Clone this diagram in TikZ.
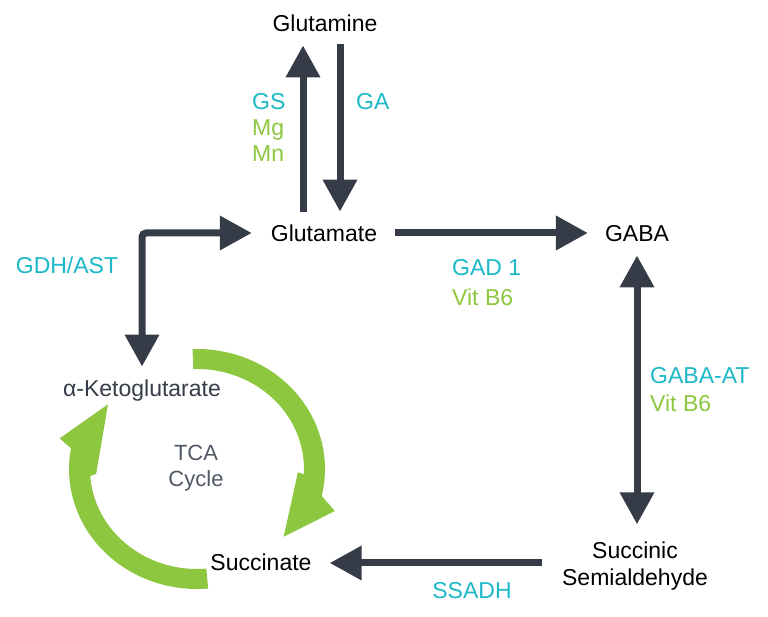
\documentclass[tikz,border=0pt]{standalone}
\usepackage{fontspec}
\setmainfont{Liberation Sans}
\usetikzlibrary{arrows.meta}
\definecolor{slate}{HTML}{353C48}
\definecolor{enzymecyan}{HTML}{1BB8C8}
\definecolor{cofactorgreen}{HTML}{8DC63F}
\definecolor{tcatext}{HTML}{505866}

\begin{document}
\begin{tikzpicture}[
        x=1pt, y=1pt,
        every node/.style={font=\fontsize{23}{27.6}\selectfont, inner sep=0pt},
        compound/.style={text height=16.5pt, text depth=0pt},
        enzyme/.style={compound, text=enzymecyan, anchor=west},
        cofactor/.style={compound, text=cofactorgreen, anchor=west},
        >={Triangle[length=32pt, width=33pt]},
        flow/.style={draw=slate, line width=7pt, ->}
    ]
    \useasboundingbox (0,0) rectangle (768,617);

    % Compounds
    \node[compound] at (325,594) (glutamine) {Glutamine};
    \node[compound] at (324,384) (glutamate) {Glutamate};
    \node[compound] at (637,384) (gaba) {GABA};
    \node[compound, text=slate] at (142,229) (akg) {α-Ketoglutarate};
    \node[compound] at (261,55) (succinate) {Succinate};
    \node[align=center] at (635,51) (succsemi) {Succinic\\Semialdehyde};

    % TCA cycle
    \node[align=center, text=tcatext, font=\fontsize{22}{26}\selectfont] at (196,149) (tca) {TCA\\Cycle};
    \fill[cofactorgreen, shift={(197,148)}] (92:128 and 120)
        arc[start angle=92, end angle=-13, x radius=128, y radius=120]
        -- (-18:145 and 136) -- (-38:110) -- (-2:101 and 94) -- (-3:107 and 100)
        arc[start angle=-3, end angle=92, x radius=107, y radius=100] -- cycle;
    \fill[cofactorgreen, shift={(197,148)}] (-85:128 and 120)
        arc[start angle=-85, end angle=-190, x radius=128, y radius=120]
        -- (-193:141 and 136) -- (-216:110) -- (-177:101 and 94) -- (-176:107 and 100)
        arc[start angle=-176, end angle=-85, x radius=107, y radius=100] -- cycle;

    % Arrows
    \draw[flow, shorten <=13pt, shorten >=14pt] ([xshift=-21pt]glutamate.north) -- ([xshift=-21pt]glutamate.north |- glutamine.south);
    \draw[flow, shorten <=13pt, shorten >=13pt] ([xshift=16pt]glutamate.north |- glutamine.south) -- ([xshift=16pt]glutamate.north);
    \draw[flow, shorten <=18pt, shorten >=17pt] (glutamate.east) -- (gaba.west);
    \draw[flow, <->, shorten <=14pt, shorten >=17pt] (gaba.south) -- (gaba.south |- succsemi.north);
    \draw[flow, shorten <=20pt, shorten >=18pt] ([yshift=3pt]succsemi.west) -- ([yshift=3pt]succsemi.west -| succinate.east);
    \draw[flow, <->, rounded corners=4pt, shorten <=13pt, shorten >=19pt] (akg.north) |- (glutamate.west);

    % Enzymes and cofactors
    \node[enzyme] at (252,516) (gs) {GS};
    \node[cofactor] at (252,490) (mg) {Mg};
    \node[cofactor] at (252,464) (mn) {Mn};
    \node[enzyme] at (356,516) (ga) {GA};
    \node[enzyme, anchor=center] at (67,352) (gdhast) {GDH/AST};
    \node[enzyme] at (452,350) (gad) {GAD 1};
    \node[cofactor] at (452,320) (gadvit) {Vit B6};
    \node[enzyme] at (650,242) (gabaat) {GABA-AT};
    \node[cofactor] at (650,214) (gabaatvit) {Vit B6};
    \node[enzyme, anchor=center] at (472,27) (ssadh) {SSADH};

\end{tikzpicture}
\end{document}
